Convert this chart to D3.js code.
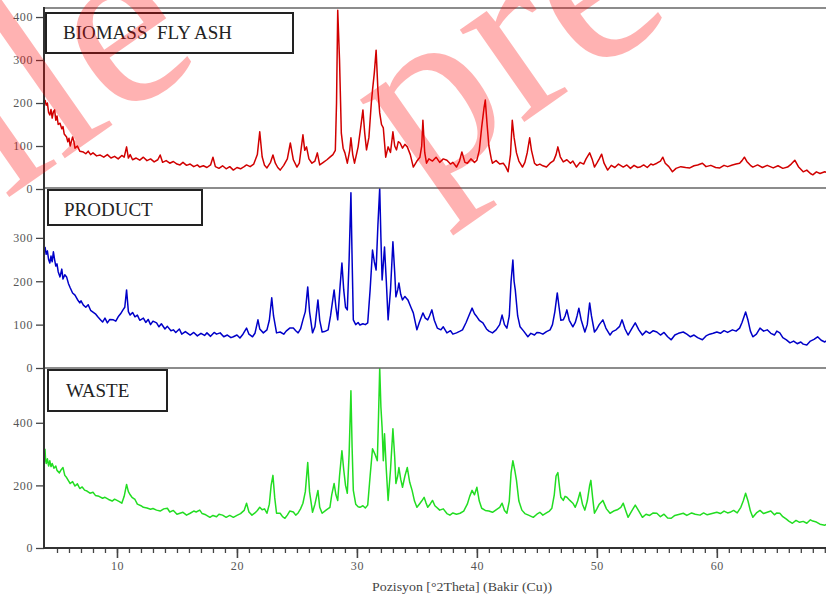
<!DOCTYPE html>
<html>
<head>
<meta charset="utf-8">
<script src="https://cdn.jsdelivr.net/npm/d3@7"></script>
<style>
  html, body { margin: 0; padding: 0; background: white; }
  #container { width: 826px; height: 595px; overflow: hidden; }
</style>
</head>
<body>
<div id="container"></div>
<script>
// [2theta, counts]
let biomassData = [[4.0,207],[4.1,195],[4.2,200],[4.3,178],[4.4,172],[4.5,185],[4.6,165],[4.7,180],[4.8,184],[4.9,160],[5.0,170],[5.1,150],[5.25,153],[5.4,140],[5.5,145],[5.6,128],[5.8,121],[5.9,110],[6.0,118],[6.1,100],[6.3,121],[6.4,112],[6.5,95],[6.7,100],[6.9,88],[7.2,86],[7.4,82],[7.6,88],[7.8,80],[8.0,84],[8.3,77],[8.6,79],[8.9,74],[9.2,80],[9.5,72],[9.8,76],[10.1,70],[10.4,78],[10.6,74],[10.8,98],[10.95,72],[11.1,80],[11.3,68],[11.6,72],[11.9,67],[12.2,74],[12.5,66],[12.8,70],[13.1,63],[13.4,68],[13.6,79],[13.8,62],[14.1,66],[14.4,60],[14.7,64],[15.0,58],[15.25,56],[15.5,62],[15.8,55],[16.1,58],[16.4,52],[16.7,56],[16.9,51],[17.2,54],[17.5,50],[17.8,56],[18.0,74],[18.2,52],[18.5,48],[18.8,54],[19.1,47],[19.4,52],[19.7,44],[20.0,50],[20.3,47],[20.6,52],[20.8,56],[21.1,52],[21.4,58],[21.7,80],[21.9,133],[22.1,75],[22.3,55],[22.5,49],[22.8,62],[23.0,79],[23.2,60],[23.4,50],[23.6,44],[23.9,55],[24.2,70],[24.45,107],[24.7,68],[25.0,51],[25.2,60],[25.5,126],[25.65,90],[25.8,98],[26.0,70],[26.25,60],[26.5,65],[26.7,84],[26.9,56],[27.2,62],[27.5,68],[27.75,74],[28.0,80],[28.2,90],[28.3,200],[28.4,416],[28.55,300],[28.7,130],[28.85,95],[29.0,84],[29.2,60],[29.4,90],[29.5,119],[29.65,80],[29.8,60],[30.0,85],[30.1,98],[30.3,140],[30.5,184],[30.65,130],[30.8,91],[31.0,120],[31.2,200],[31.3,230],[31.45,270],[31.6,323],[31.75,230],[31.9,177],[32.05,150],[32.2,142],[32.4,74],[32.6,98],[32.8,85],[33.0,133],[33.15,100],[33.3,91],[33.45,110],[33.6,107],[33.8,95],[34.0,104],[34.2,98],[34.45,80],[34.7,51],[35.0,65],[35.25,74],[35.4,100],[35.5,160],[35.65,85],[35.8,60],[36.0,70],[36.3,65],[36.6,74],[36.9,62],[37.2,70],[37.5,67],[37.8,58],[38.0,62],[38.3,51],[38.55,65],[38.75,86],[39.0,62],[39.2,60],[39.5,70],[39.8,62],[40.0,67],[40.2,90],[40.4,144],[40.6,190],[40.7,207],[40.85,150],[41.0,100],[41.2,70],[41.3,60],[41.6,66],[41.9,58],[42.2,60],[42.4,52],[42.6,40],[42.8,80],[42.95,160],[43.1,120],[43.3,84],[43.5,65],[43.8,51],[44.0,62],[44.2,85],[44.4,119],[44.55,90],[44.8,60],[45.0,55],[45.25,58],[45.5,54],[45.8,51],[46.1,60],[46.4,66],[46.6,80],[46.75,98],[46.95,75],[47.2,63],[47.5,68],[47.8,60],[48.0,65],[48.3,51],[48.6,62],[48.9,58],[49.1,70],[49.4,84],[49.6,70],[49.8,51],[50.0,60],[50.2,70],[50.4,81],[50.6,60],[50.9,44],[51.2,55],[51.5,50],[51.8,58],[52.2,51],[52.5,56],[52.8,48],[53.1,55],[53.4,50],[53.6,51],[53.9,56],[54.2,50],[54.5,58],[54.7,56],[55.0,60],[55.3,65],[55.5,74],[55.7,60],[56.0,52],[56.3,40],[56.6,48],[57.0,52],[57.4,50],[57.75,49],[58.1,54],[58.4,56],[58.8,60],[59.1,52],[59.5,55],[59.9,50],[60.25,49],[60.6,55],[60.9,52],[61.3,56],[61.6,58],[61.9,60],[62.1,66],[62.3,74],[62.5,64],[62.8,55],[63.0,51],[63.4,56],[63.8,50],[64.2,55],[64.7,49],[65.1,54],[65.5,48],[65.9,51],[66.2,58],[66.5,67],[66.8,52],[67.2,40],[67.5,44],[67.8,36],[68.0,33],[68.3,40],[68.6,36],[69.0,40],[69.2,38]];

let productData = [[4.0,279],[4.1,262],[4.2,270],[4.3,250],[4.4,242],[4.5,258],[4.6,245],[4.7,268],[4.8,250],[4.9,235],[5.0,240],[5.1,222],[5.25,210],[5.4,228],[5.5,205],[5.65,215],[5.8,210],[5.95,195],[6.1,185],[6.3,173],[6.5,168],[6.7,158],[6.9,150],[7.0,155],[7.2,145],[7.4,140],[7.6,146],[7.8,133],[8.0,129],[8.2,125],[8.4,118],[8.6,112],[8.8,106],[9.0,115],[9.2,104],[9.4,112],[9.7,111],[9.9,108],[10.1,118],[10.3,125],[10.5,134],[10.65,140],[10.8,180],[10.95,130],[11.1,122],[11.3,128],[11.5,118],[11.7,122],[11.9,110],[12.2,115],[12.4,105],[12.6,112],[12.8,100],[13.0,108],[13.3,104],[13.5,95],[13.7,102],[14.0,90],[14.2,96],[14.5,86],[14.7,88],[14.9,82],[15.2,90],[15.4,78],[15.7,84],[16.1,76],[16.4,82],[16.7,74],[17.0,80],[17.3,75],[17.5,81],[17.8,73],[18.1,82],[18.3,78],[18.6,81],[18.9,72],[19.2,76],[19.5,70],[19.7,72],[20.0,76],[20.25,69],[20.5,78],[20.8,92],[21.0,78],[21.3,72],[21.5,80],[21.75,111],[21.9,90],[22.2,81],[22.5,88],[22.7,110],[22.9,162],[23.05,120],[23.3,81],[23.6,83],[23.9,78],[24.1,85],[24.4,92],[24.7,92],[24.9,86],[25.1,81],[25.3,90],[25.5,111],[25.7,130],[25.9,187],[26.05,130],[26.3,81],[26.5,95],[26.75,157],[26.9,110],[27.1,83],[27.3,84],[27.6,88],[27.8,120],[28.1,180],[28.25,140],[28.4,111],[28.6,190],[28.75,242],[28.9,180],[29.05,140],[29.2,134],[29.35,250],[29.5,404],[29.6,250],[29.7,111],[29.9,100],[30.1,105],[30.25,99],[30.5,102],[30.7,100],[30.9,104],[31.1,180],[31.3,272],[31.45,245],[31.6,226],[31.75,330],[31.9,415],[32.0,300],[32.1,203],[32.2,240],[32.3,279],[32.45,200],[32.6,111],[32.8,180],[33.0,291],[33.15,220],[33.25,164],[33.4,180],[33.5,196],[33.65,170],[33.8,157],[34.0,165],[34.25,157],[34.5,140],[34.7,127],[35.0,88],[35.2,105],[35.5,127],[35.7,115],[35.9,111],[36.05,120],[36.25,134],[36.45,110],[36.7,92],[37.0,88],[37.2,95],[37.5,81],[37.8,86],[38.0,78],[38.3,81],[38.6,85],[38.8,88],[39.1,105],[39.4,125],[39.6,138],[39.8,125],[40.0,118],[40.2,110],[40.5,104],[40.8,90],[41.0,85],[41.3,81],[41.6,88],[41.9,100],[42.1,122],[42.3,100],[42.5,92],[42.7,120],[42.85,200],[43.0,249],[43.1,200],[43.2,180],[43.4,120],[43.6,95],[43.9,85],[44.25,72],[44.5,80],[44.8,76],[45.0,82],[45.25,81],[45.5,78],[45.8,84],[46.1,88],[46.3,100],[46.5,130],[46.7,173],[46.85,140],[47.0,110],[47.2,111],[47.35,120],[47.5,134],[47.7,110],[48.0,95],[48.2,105],[48.35,120],[48.5,138],[48.7,110],[49.0,83],[49.2,100],[49.4,150],[49.55,120],[49.8,83],[50.0,90],[50.2,100],[50.5,111],[50.75,92],[51.1,76],[51.3,84],[51.6,88],[51.9,96],[52.1,111],[52.35,90],[52.6,76],[52.9,90],[53.2,104],[53.5,88],[53.8,76],[54.1,85],[54.4,80],[54.7,86],[55.0,83],[55.3,76],[55.6,82],[55.9,72],[56.2,65],[56.5,76],[56.8,80],[57.2,83],[57.5,78],[57.8,72],[58.1,76],[58.4,70],[58.8,65],[59.1,74],[59.4,78],[59.7,80],[60.0,83],[60.3,80],[60.6,86],[60.9,82],[61.3,88],[61.6,85],[61.9,92],[62.1,105],[62.4,129],[62.6,110],[62.8,85],[63.0,72],[63.3,78],[63.6,92],[63.9,85],[64.2,88],[64.5,80],[64.8,76],[65.0,85],[65.25,81],[65.5,70],[65.8,65],[66.1,58],[66.4,62],[66.7,56],[67.0,60],[67.2,55],[67.5,53],[67.8,62],[68.1,66],[68.4,72],[68.7,64],[69.0,60],[69.2,64]];

let wasteData = [[4.0,317],[4.05,280],[4.1,270],[4.2,285],[4.3,262],[4.4,279],[4.5,260],[4.6,270],[4.75,255],[4.9,262],[5.0,248],[5.2,240],[5.35,250],[5.5,257],[5.65,232],[5.8,225],[5.95,215],[6.1,206],[6.3,212],[6.5,198],[6.7,205],[6.9,190],[7.1,195],[7.3,185],[7.5,182],[7.75,175],[8.0,178],[8.2,168],[8.5,165],[8.8,159],[9.0,162],[9.3,155],[9.6,150],[9.8,156],[10.0,152],[10.2,148],[10.4,143],[10.6,165],[10.8,203],[10.95,180],[11.1,170],[11.25,162],[11.5,155],[11.7,140],[12.0,135],[12.2,130],[12.5,128],[12.8,124],[13.0,126],[13.3,121],[13.6,118],[13.9,125],[14.2,127],[14.4,115],[14.7,120],[15.0,108],[15.25,111],[15.5,114],[15.8,105],[16.1,111],[16.4,118],[16.6,115],[16.9,121],[17.1,110],[17.4,106],[17.75,98],[18.0,104],[18.3,100],[18.5,108],[18.8,105],[19.1,98],[19.4,104],[19.7,98],[20.0,104],[20.3,110],[20.6,120],[20.8,143],[21.0,115],[21.25,105],[21.5,112],[21.7,120],[21.9,130],[22.1,122],[22.3,125],[22.5,111],[22.7,140],[22.85,200],[23.0,232],[23.15,160],[23.3,111],[23.6,111],[23.8,100],[24.0,95],[24.2,105],[24.4,118],[24.7,115],[24.9,105],[25.1,112],[25.3,125],[25.5,143],[25.7,180],[25.9,273],[26.05,180],[26.3,114],[26.5,140],[26.75,184],[26.9,130],[27.1,111],[27.4,120],[27.75,130],[27.9,170],[28.1,206],[28.25,170],[28.4,152],[28.55,230],[28.75,311],[28.9,250],[29.05,200],[29.2,175],[29.35,300],[29.5,502],[29.6,320],[29.7,184],[29.9,140],[30.1,132],[30.25,130],[30.5,135],[30.7,128],[30.9,137],[31.1,230],[31.3,317],[31.5,300],[31.7,279],[31.8,420],[31.9,575],[32.0,450],[32.1,384],[32.2,279],[32.3,365],[32.45,250],[32.6,152],[32.8,250],[33.0,381],[33.15,290],[33.25,206],[33.4,230],[33.5,257],[33.65,220],[33.8,194],[34.0,230],[34.2,257],[34.4,210],[34.6,184],[34.8,150],[35.0,130],[35.2,140],[35.4,150],[35.6,162],[35.75,145],[35.9,130],[36.1,140],[36.3,152],[36.5,135],[36.9,121],[37.2,125],[37.5,110],[37.75,105],[38.0,112],[38.3,108],[38.6,111],[38.9,118],[39.2,140],[39.4,165],[39.6,184],[39.8,170],[40.0,194],[40.2,150],[40.4,127],[40.7,120],[41.0,118],[41.3,114],[41.6,122],[41.9,130],[42.1,143],[42.3,120],[42.5,111],[42.7,150],[42.85,240],[43.0,279],[43.15,250],[43.3,216],[43.5,150],[43.75,121],[44.0,110],[44.3,105],[44.7,98],[45.0,108],[45.25,114],[45.5,105],[45.8,112],[46.05,118],[46.25,127],[46.45,170],[46.6,230],[46.75,241],[46.9,190],[47.0,162],[47.2,152],[47.35,165],[47.5,162],[47.75,152],[48.0,143],[48.2,130],[48.4,150],[48.6,178],[48.8,140],[49.0,121],[49.2,150],[49.4,200],[49.5,216],[49.65,160],[49.8,111],[50.0,125],[50.2,140],[50.5,152],[50.8,125],[51.1,111],[51.4,118],[51.7,122],[52.0,130],[52.2,143],[52.4,120],[52.6,98],[52.9,118],[53.2,137],[53.5,118],[53.8,98],[54.1,108],[54.4,104],[54.7,112],[55.0,111],[55.3,100],[55.6,108],[55.9,96],[56.2,95],[56.5,104],[56.9,108],[57.2,111],[57.5,104],[57.9,112],[58.2,108],[58.6,105],[58.9,112],[59.2,106],[59.6,110],[60.0,114],[60.3,110],[60.6,118],[60.9,112],[61.1,114],[61.4,120],[61.7,112],[62.0,130],[62.2,150],[62.4,175],[62.6,150],[62.8,118],[63.0,98],[63.3,112],[63.6,120],[63.9,110],[64.2,114],[64.5,118],[64.8,106],[65.0,112],[65.25,111],[65.5,100],[65.8,92],[66.0,86],[66.3,79],[66.6,88],[66.9,82],[67.2,85],[67.5,79],[67.8,90],[68.0,86],[68.3,83],[68.6,76],[69.0,73],[69.2,76]];

let panelNames = ['BIOMASS  FLY ASH', 'PRODUCT', 'WASTE'];
let panelMax = [421, 415, 575];
let panelTicks = [[0, 100, 200, 300, 400], [0, 100, 200, 300], [0, 200, 400]];
let xMajorTicks = [10, 20, 30, 40, 50, 60];
let xTitle = 'Pozisyon [°2Theta] (Bakir (Cu))';

let viz = d3.select('#container')
    .append('svg')
      .attr('id', 'viz')
      .attr('width', 826)
      .attr('height', 595)
      .style('background', 'white')
;

let left = 44,
    right = 826,
    panelTop = [8, 188, 368],
    panelBottom = [189, 368, 548];

let colors = ['#d10000', '#0000c8', '#22dd22'];
let series = [biomassData, productData, wasteData];
let serif = 'Liberation Serif, DejaVu Serif, serif';

function main() {
    let x = d3.scaleLinear().domain([4, 69.1]).range([45, 826]);

    let defs = viz.append('defs');

    series.forEach(function(data, i) {
        let y = d3.scaleLinear().domain([0, panelMax[i]]).range([panelBottom[i], panelTop[i]]);

        defs.append('clipPath')
            .attr('id', 'clip' + i)
          .append('rect')
            .attr('x', left)
            .attr('y', panelTop[i])
            .attr('width', right - left)
            .attr('height', panelBottom[i] - panelTop[i]);

        let line = d3.line()
            .x(d => x(d[0]))
            .y(d => y(d[1]));

        viz.append('path')
            .datum(data)
            .attr('clip-path', 'url(#clip' + i + ')')
            .attr('fill', 'none')
            .attr('stroke', colors[i])
            .attr('stroke-width', 1.5)
            .attr('stroke-linejoin', 'round')
            .attr('d', line);

        // y axis ticks
        let yAxis = viz.append('g')
            .attr('transform', 'translate(' + left + ',0)')
            .call(d3.axisLeft(y).tickValues(panelTicks[i]).tickSize(8).tickPadding(3));
        yAxis.select('.domain').remove();
        yAxis.attr('font-family', serif);
        yAxis.selectAll('line').attr('stroke', '#444').attr('stroke-width', 1.3);
        yAxis.selectAll('text')
            .attr('font-size', 12)
            .attr('letter-spacing', 0.6)
            .attr('fill', '#555');

        // panel top border
        viz.append('line')
            .attr('x1', left).attr('x2', right)
            .attr('y1', panelTop[i]).attr('y2', panelTop[i])
            .attr('stroke', '#666')
            .attr('stroke-width', 1.6);
    });

    // label boxes
    let boxes = [[46, 13, 247, 40, 63, 39], [48, 190, 154, 35, 64, 216], [48, 370, 119, 41, 66, 397]];
    boxes.forEach(function(b, i) {
        viz.append('rect')
            .attr('x', b[0]).attr('y', b[1])
            .attr('width', b[2]).attr('height', b[3])
            .attr('fill', 'white')
            .attr('stroke', '#222')
            .attr('stroke-width', 2);
        viz.append('text')
            .attr('x', b[4]).attr('y', b[5])
            .attr('font-family', serif)
            .attr('font-size', 19)
            .attr('fill', '#222')
            .style('white-space', 'pre')
            .text(panelNames[i]);
    });

    // x axis: minor ticks every degree, major every 10
    let minor = viz.append('g')
        .attr('transform', 'translate(0,548)')
        .call(d3.axisBottom(x).tickValues(d3.range(5, 70)).tickSize(5).tickFormat(''));
    minor.select('.domain').remove();
    minor.selectAll('line').attr('stroke', '#444').attr('stroke-width', 1.3);

    let major = viz.append('g')
        .attr('transform', 'translate(0,548)')
        .call(d3.axisBottom(x).tickValues(xMajorTicks).tickSize(10).tickPadding(3));
    major.select('.domain').remove();
    major.attr('font-family', serif);
    major.selectAll('line').attr('stroke', '#444').attr('stroke-width', 1.6);
    major.selectAll('text')
        .attr('font-size', 12)
        .attr('letter-spacing', 0.6)
        .attr('fill', '#555');

    // frame lines
    viz.append('line')
        .attr('x1', left).attr('x2', right)
        .attr('y1', 548).attr('y2', 548)
        .attr('stroke', '#333').attr('stroke-width', 2);
    viz.append('line')
        .attr('x1', left).attr('x2', left)
        .attr('y1', 7).attr('y2', 549)
        .attr('stroke', '#333').attr('stroke-width', 2);

    viz.append('text')
        .attr('x', 462).attr('y', 591)
        .attr('text-anchor', 'middle')
        .attr('font-family', serif)
        .attr('font-size', 12)
        .attr('textLength', 180)
        .attr('lengthAdjust', 'spacingAndGlyphs')
        .attr('fill', '#444')
        .text(xTitle);

    // red watermark over the figure
    let mark = viz.append('g')
        .attr('font-family', serif)
        .attr('font-size', 245)
        .attr('fill', '#ff0000')
        .attr('fill-opacity', 0.3)
        .style('pointer-events', 'none');
    mark.append('text')
        .attr('transform', 'translate(' + 420 + ',' + 195 + ') rotate(-35)')
        .text('pre');
    mark.append('text')
        .attr('transform', 'translate(' + 5 + ',' + 200 + ') rotate(-35)')
        .text('ile');
}

main();
</script>
</body>
</html>
